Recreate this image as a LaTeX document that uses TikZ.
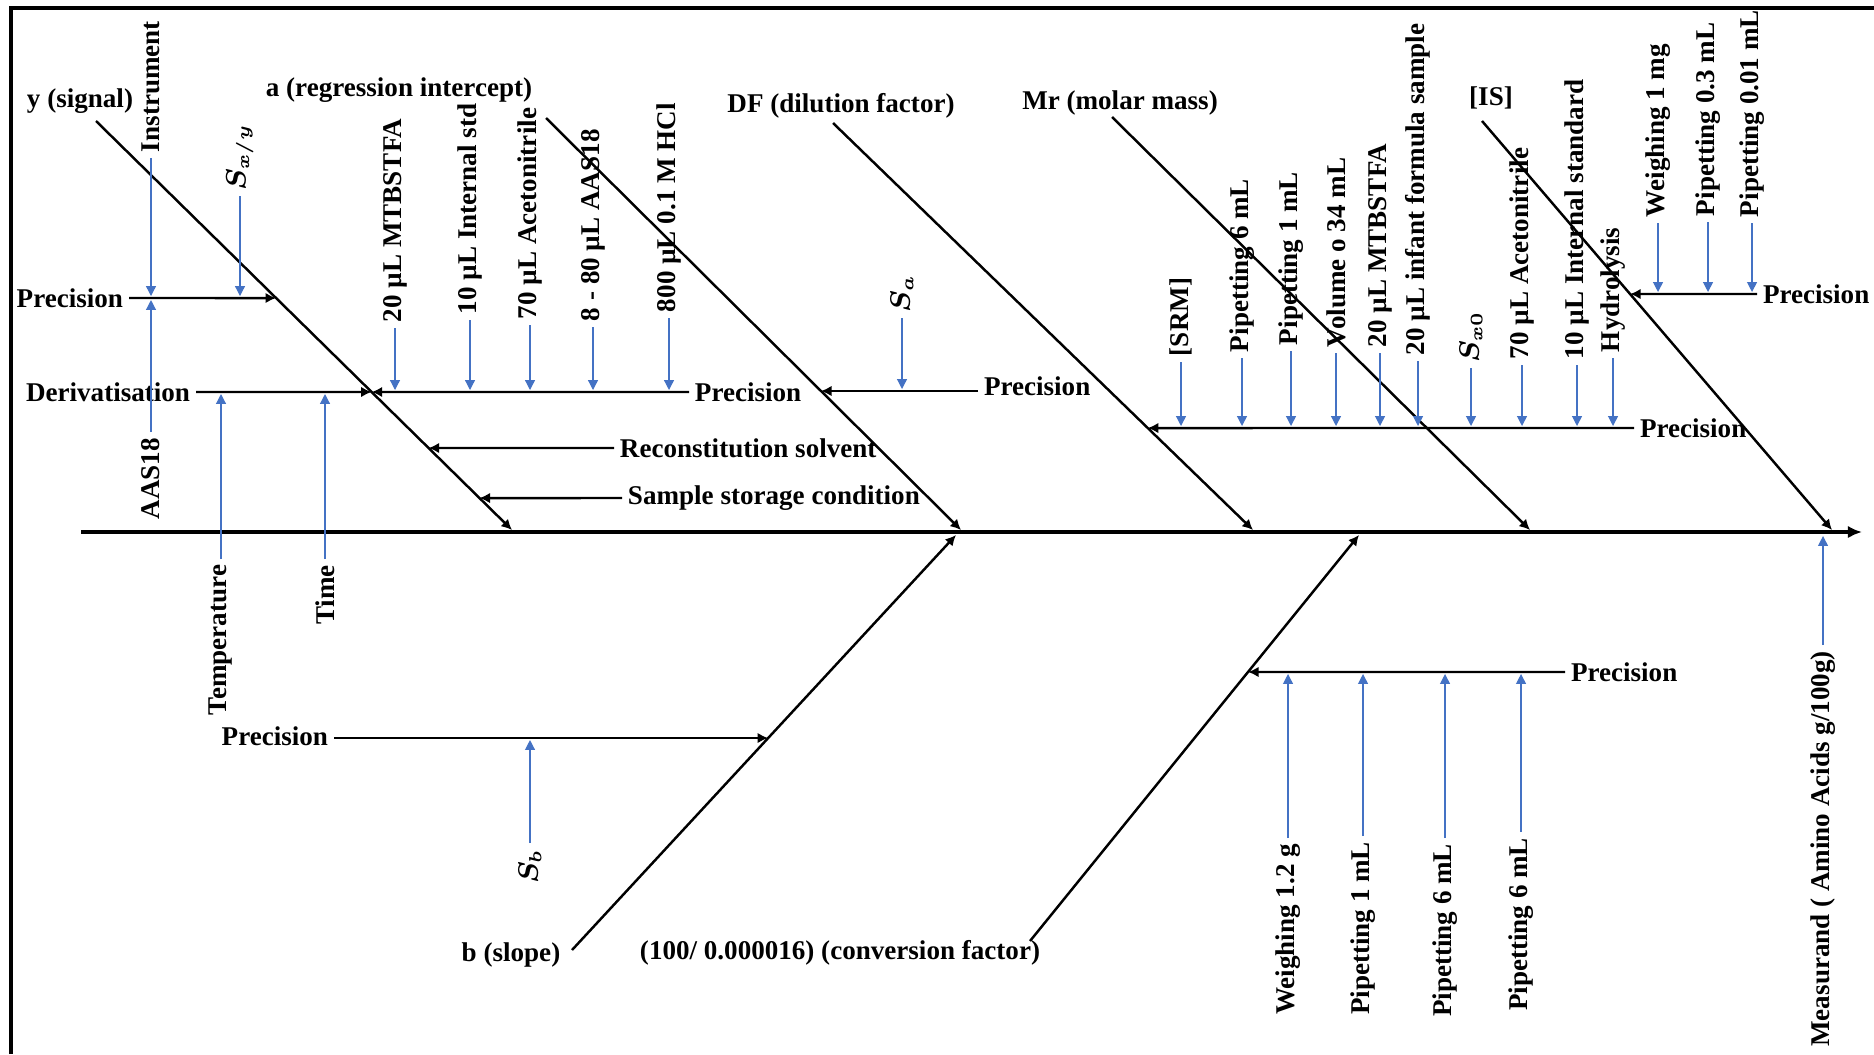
\documentclass[tikz,border=0pt]{standalone}
\usepackage{fontspec}
\setmainfont{Liberation Serif}
\usetikzlibrary{arrows.meta,calc}
\definecolor{arrowblue}{RGB}{68,114,196}
\tikzset{
  lab/.style={font=\fontsize{7.7pt}{9pt}\selectfont\bfseries, inner sep=1.5pt},
  vlab/.style={lab, rotate=90},
  mlab/.style={vlab, font=\fontsize{7.7pt}{9pt}\selectfont\boldmath},
  bone/.style={line width=0.7pt, -{Latex[length=3pt,width=3pt]}},
  spine/.style={line width=1.1pt, -{Latex[length=4pt,width=3.5pt]}},
  barrow/.style={arrowblue, line width=0.35pt, -{Triangle[length=2.8pt,width=2.8pt]}, shorten >=0.02cm}
}
\begin{document}
\begin{tikzpicture}[x=0.01cm, y=-0.01cm]
\useasboundingbox (0,0) rectangle (1874,1054);
\draw [line width=1pt] (11,1054) -- (11,8) -- (1874,8);

\coordinate (s0) at (81,532);
\coordinate (s1) at (1862,532);
\draw [spine] (s0) -- (s1);

\coordinate (y0) at (96,121);    \coordinate (ty) at (512,530);
\coordinate (a0) at (546,118);   \coordinate (ta) at (961,530);
\coordinate (df0) at (833,123);  \coordinate (tdf) at (1253,530);
\coordinate (mr0) at (1112,117); \coordinate (tmr) at (1530,530);
\coordinate (is0) at (1482,121); \coordinate (tis) at (1832,530);
\coordinate (b0) at (572,950);   \coordinate (tb) at (956,535);
\coordinate (cf0) at (1030,941); \coordinate (tcf) at (1359,535);

\node [lab] (ySig) at (80,101) {y (signal)};
\node [lab] (aInt) at (399,90) {a (regression intercept)};
\node [lab] (dfLab) at (841,106) {DF (dilution factor)};
\node [lab] (mrLab) at (1120,103) {Mr (molar mass)};
\node [lab] (isLab) at (1491,98) {[IS]};
\node [lab] (bLab) at (511,955) {b (slope)};
\node [lab] (cfLab) at (840,953) {(100/ 0.000016) (conversion factor)};

\draw [bone] (y0) -- (ty);
\draw [bone] (a0) -- (ta);
\draw [bone] (df0) -- (tdf);
\draw [bone] (mr0) -- (tmr);
\draw [bone] (is0) -- (tis);
\draw [bone] (b0) -- (tb);
\draw [bone] (cf0) -- (tcf);

\coordinate (tPY) at ($(y0)!0.4328!(ty)$);
\coordinate (tD) at ($(y0)!0.6626!(ty)$);
\coordinate (tR) at ($(y0)!0.7995!(ty)$);
\coordinate (tS) at ($(y0)!0.9218!(ty)$);
\coordinate (tSa) at ($(a0)!0.6626!(ta)$);
\coordinate (tSRM) at ($(df0)!0.7494!(tdf)$);
\coordinate (tIS) at ($(is0)!0.423!(tis)$);
\coordinate (tPB) at ($(b0)!0.5108!(tb)$);
\coordinate (tPC) at ($(cf0)!0.6626!(tcf)$);

\node [lab, anchor=east] (pY) at (129,298) {Precision};
\node [lab, anchor=east] (dLab) at (196,392) {Derivatisation};
\node [lab, anchor=west] (pA) at (689,392) {Precision};
\node [lab, anchor=west] (rLab) at (614,448) {Reconstitution solvent};
\node [lab, anchor=west] (sLab) at (622,498) {Sample storage condition};
\node [lab, anchor=west] (pSa) at (978,386) {Precision};
\node [lab, anchor=west] (pSRM) at (1634,428) {Precision};
\node [lab, anchor=west] (pIS) at (1757,294) {Precision};
\node [lab, anchor=east] (pB) at (334,736) {Precision};
\node [lab, anchor=west] (pCf) at (1565,672) {Precision};

\draw [bone] (pY.east) -- (tPY);
\draw [bone] (dLab.east) -- (tD);
\draw [bone] (pA.west) -- (tD);
\draw [bone] (rLab.west) -- (tR);
\draw [bone] (sLab.west) -- (tS);
\draw [bone] (pSa.west |- tSa) -- (tSa);
\draw [bone] (pSRM.west) -- (tSRM);
\draw [bone] (pIS.west) -- (tIS);
\draw [bone] (pB.east |- tPB) -- (tPB);
\draw [bone] (pCf.west) -- (tPC);

\node [vlab, anchor=west] (instr) at (151,158) {Instrument};
\node [vlab, anchor=east] (aas) at (151,432) {AAS18};
\node [mlab, anchor=west] (sxy) at (240,196) {$S_{x/y}$};
\node [vlab, anchor=east] (temp) at (221,559) {Temperature};
\node [vlab, anchor=east] (time) at (325,559) {Time};
\draw [barrow] (instr.west) -- (instr.west |- tPY);
\draw [barrow] (aas.east) -- (aas.east |- tPY);
\draw [barrow] (sxy.west) -- (sxy.west |- tPY);
\draw [barrow] (temp.east) -- (temp.east |- tD);
\draw [barrow] (time.east) -- (time.east |- tD);

\node [vlab, anchor=west] (mtbA) at (395,328) {20 µL MTBSTFA};
\node [vlab, anchor=west] (istdA) at (470,320) {10 µL Internal std};
\node [vlab, anchor=west] (acnA) at (530,325) {70 µL Acetonitrile};
\node [vlab, anchor=west] (aasA) at (593,327) {8 - 80 µL AAS18};
\node [vlab, anchor=west] (hclA) at (669,318) {800 µL 0.1 M HCl};
\node [mlab, anchor=west] (sa) at (902,318) {$S_a$};
\draw [barrow] (mtbA.west) -- (mtbA.west |- tD);
\draw [barrow] (istdA.west) -- (istdA.west |- tD);
\draw [barrow] (acnA.west) -- (acnA.west |- tD);
\draw [barrow] (aasA.west) -- (aasA.west |- tD);
\draw [barrow] (hclA.west) -- (hclA.west |- tD);
\draw [barrow] (sa.west) -- (sa.west |- tSa);

\node [vlab, anchor=west] (srm) at (1181,362) {[SRM]};
\node [vlab, anchor=west] (pipSa) at (1242,358) {Pipetting 6 mL};
\node [vlab, anchor=west] (pipSb) at (1291,351) {Pipetting 1 mL};
\node [vlab, anchor=west] (volS) at (1336,353) {Volume o 34 mL};
\node [vlab, anchor=west] (mtbS) at (1380,353) {20 µL MTBSTFA};
\node [vlab, anchor=west] (infS) at (1418,361) {20 µL infant formula sample};
\node [mlab, anchor=west] (sx0) at (1471,368) {$S_{x0}$};
\node [vlab, anchor=west] (acnS) at (1522,365) {70 µL Acetonitrile};
\node [vlab, anchor=west] (istdS) at (1577,365) {10 µL Internal standard};
\node [vlab, anchor=west] (hydS) at (1613,358) {Hydrolysis};
\draw [barrow] (srm.west) -- (srm.west |- tSRM);
\draw [barrow] (pipSa.west) -- (pipSa.west |- tSRM);
\draw [barrow] (pipSb.west) -- (pipSb.west |- tSRM);
\draw [barrow] (volS.west) -- (volS.west |- tSRM);
\draw [barrow] (mtbS.west) -- (mtbS.west |- tSRM);
\draw [barrow] (infS.west) -- (infS.west |- tSRM);
\draw [barrow] (sx0.west) -- (sx0.west |- tSRM);
\draw [barrow] (acnS.west) -- (acnS.west |- tSRM);
\draw [barrow] (istdS.west) -- (istdS.west |- tSRM);
\draw [barrow] (hydS.west) -- (hydS.west |- tSRM);

\node [vlab, anchor=west] (wIS) at (1658,223) {Weighing 1 mg};
\node [vlab, anchor=west] (pIa) at (1708,222) {Pipetting 0.3 mL};
\node [vlab, anchor=west] (pIb) at (1752,223) {Pipetting 0.01 mL};
\draw [barrow] (wIS.west) -- (wIS.west |- tIS);
\draw [barrow] (pIa.west) -- (pIa.west |- tIS);
\draw [barrow] (pIb.west) -- (pIb.west |- tIS);

\node [mlab, anchor=east] (sb) at (530,843) {$S_b$};
\draw [barrow] (sb.east) -- (sb.east |- tPB);

\node [vlab, anchor=east] (wCf) at (1288,838) {Weighing 1.2 g};
\node [vlab, anchor=east] (pCa) at (1363,836) {Pipetting 1 mL};
\node [vlab, anchor=east] (pCb) at (1445,838) {Pipetting 6 mL};
\node [vlab, anchor=east] (pCc) at (1521,832) {Pipetting 6 mL};
\draw [barrow] (wCf.east) -- (wCf.east |- tPC);
\draw [barrow] (pCa.east) -- (pCa.east |- tPC);
\draw [barrow] (pCb.east) -- (pCb.east |- tPC);
\draw [barrow] (pCc.east) -- (pCc.east |- tPC);

\node [vlab, anchor=east] (meas) at (1823,645) {Measurand ( Amino Acids g/100g)};
\draw [barrow, shorten >=0.04cm] (meas.east) -- (meas.east |- s0);

\end{tikzpicture}
\end{document}
